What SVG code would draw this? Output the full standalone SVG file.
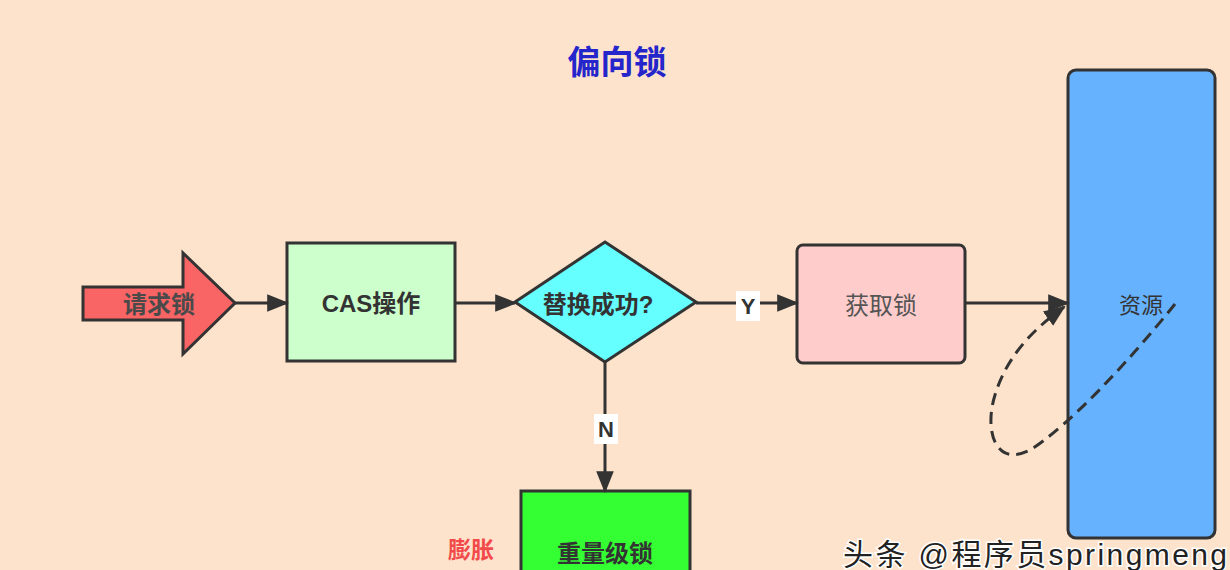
<svg xmlns="http://www.w3.org/2000/svg" width="1230" height="570" viewBox="0 0 1230 570">
<defs>
<style>
.t{font-family:"Liberation Sans","Noto Sans CJK SC",sans-serif;text-anchor:middle;dominant-baseline:central}
.nd{stroke:#333;stroke-width:3}
.ln{stroke:#333;stroke-width:3;fill:none}
.lbl{font-family:"Liberation Sans","Noto Sans CJK SC",sans-serif;font-weight:bold;font-size:22px;fill:#333;text-anchor:middle;dominant-baseline:central}
</style>
<marker id="ahb" viewBox="0 0 10 10" refX="9" refY="5" markerWidth="22" markerHeight="22" markerUnits="userSpaceOnUse" orient="auto">
<path d="M0,1 L10,5 L0,9 z" fill="#333"/>
</marker>
</defs>
<rect x="0" y="0" width="1230" height="570" fill="#FDE3CB"/>
<text class="t" x="617" y="62" font-size="33" font-weight="bold" fill="#2525CC">偏向锁</text>

<g id="n-request">
<path class="nd" fill="#F96464" d="M83,287 L183,287 L183,253 L235,303 L183,354 L183,320 L83,320 z"/>
<text class="t" x="159" y="304" font-size="24" font-weight="bold" fill="#4a4a4a">请求锁</text>
</g>

<g id="n-cas">
<rect class="nd" x="287" y="243" width="168" height="118" fill="#CCFFCC"/>
<text class="t" x="371" y="303" font-size="24" font-weight="bold" fill="#333">CAS操作</text>
</g>

<g id="n-decision">
<path class="nd" fill="#66FFFF" d="M605,242 L696,302 L605,362 L515,302 z"/>
<text class="t" x="598" y="304" font-size="24" font-weight="bold" fill="#333">替换成功?</text>
</g>

<g id="n-acquire">
<rect class="nd" x="797" y="245" width="168" height="118" rx="6" fill="#FFCCCC"/>
<text class="t" x="881" y="305" font-size="24" fill="#555">获取锁</text>
</g>

<g id="n-resource">
<rect class="nd" x="1068" y="70" width="147" height="468" rx="8" fill="#66B2FF"/>
<text class="t" x="1141" y="305" font-size="22" fill="#333">资源</text>
</g>

<g id="n-heavy">
<rect class="nd" x="521" y="491" width="169" height="110" fill="#33FF33"/>
<text class="t" x="605" y="553" font-size="24" font-weight="bold" fill="#333">重量级锁</text>
</g>

<g id="connectors">
<line class="ln" x1="235" y1="303" x2="287" y2="303" marker-end="url(#ahb)"/>
<line class="ln" x1="455" y1="303" x2="515" y2="303" marker-end="url(#ahb)"/>
<line class="ln" x1="696" y1="303" x2="797" y2="303" marker-end="url(#ahb)"/>
<line class="ln" x1="965" y1="303" x2="1068" y2="303" marker-end="url(#ahb)"/>
<line class="ln" x1="605" y1="362" x2="605" y2="491" marker-end="url(#ahb)"/>
<rect x="736" y="291" width="24" height="30" fill="#fff"/>
<text class="lbl" x="748" y="306">Y</text>
<rect x="594" y="414" width="24" height="30" fill="#fff"/>
<text class="lbl" x="606" y="429">N</text>
<path class="ln" stroke-dasharray="12,7" d="M1175,304 C1130,360 1070,425 1030,450 C995,468 984,430 995,395 C1007,355 1035,328 1064,307" marker-end="url(#ahb)"/>
</g>

<text class="t" x="471" y="550" font-size="23" font-weight="bold" fill="#F24A4A">膨胀</text>

<text x="843" y="565" font-family="'Liberation Sans','Noto Sans CJK SC',sans-serif" font-size="30" textLength="384" lengthAdjust="spacing" fill="#222" stroke="#fff" stroke-width="3" paint-order="stroke">头条 @程序员springmeng</text>
</svg>
